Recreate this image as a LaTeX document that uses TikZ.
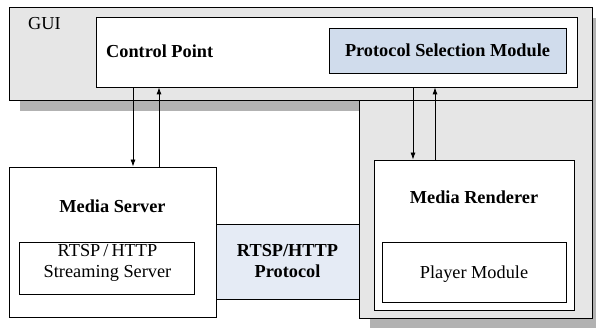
\documentclass[tikz,border=0pt]{standalone}
\usepackage{fontspec}
\setmainfont{Liberation Serif}
\usepackage{tikz}
\usetikzlibrary{arrows.meta}
\usetikzlibrary{shadows}

\definecolor{guigray}{RGB}{230,230,230}
\definecolor{shadowgray}{RGB}{178,178,178}
\definecolor{psmblue}{RGB}{208,220,236}
\definecolor{protoblue}{RGB}{229,235,245}

\begin{document}
\begin{tikzpicture}[x = 1pt, y = -1pt,
    every node/.style = {font = \fontsize{18.3}{21}\selectfont, inner sep = 0},
    box/.style = {draw, line width = 0.8pt, fill = white},
    shadowed/.style = {drop shadow = {shadow xshift = 11pt, shadow yshift = -11pt,
        fill = shadowgray, opacity = 1}},
    arr/.style = {-{Latex[length = 7pt, width = 5pt]}, line width = 0.8pt}]

    %% frame
    \fill[white] (0, 0) rectangle (596, 328);
    \clip (0, 0) rectangle (596, 328);

    %% gui and renderer side
    \node[box, shadowed, fill = guigray, minimum width = 583pt, minimum height = 93pt] (gui) at (300.5, 53.5) {};
    \node[anchor = base west] (guitext) at (28, 29.3) {GUI};
    \node[box, shadowed, fill = guigray, minimum width = 233pt, minimum height = 218pt] (rside) at (475.5, 209) {};

    %% control point
    \node[box, minimum width = 481pt, minimum height = 70pt] (cp) at (336.5, 52) {};
    \node[anchor = base west] (cptext) at (106, 57.3) {\bfseries Control Point};
    \node[box, fill = psmblue, minimum width = 237pt, minimum height = 45pt] (psm) at (447.5, 50.5)
        {\bfseries Protocol Selection Module};

    %% media server
    \node[box, minimum width = 207pt, minimum height = 150pt] (ms) at (112.5, 242) {};
    \node[anchor = base] (mstext) at (112.5, 212.7) {\bfseries Media Server};
    \node[box, minimum width = 175pt, minimum height = 52pt] (sss) at (106.5, 268) {};
    \node[align = center] (ssstext) at (107.5, 263) {RTSP\,/\,HTTP\\Streaming Server};

    %% protocol
    \node[box, fill = protoblue, minimum width = 143pt, minimum height = 75pt, align = center] (proto)
        at (287.5, 261.5) {\bfseries RTSP/HTTP\\\bfseries Protocol};

    %% media renderer
    \node[box, minimum width = 200pt, minimum height = 150pt] (mr) at (474, 235) {};
    \node[anchor = base] (mrtext) at (474, 203.3) {\bfseries Media Renderer};
    \node[box, minimum width = 184pt, minimum height = 60pt] (pm) at (474, 272) {};
    \node[anchor = base] (pmtext) at (474, 278) {Player Module};

    %% arrows
    \coordinate (msdown) at ([xshift = 20.5pt] ms.north);
    \coordinate (msup) at ([xshift = 46.5pt] ms.north);
    \coordinate (mrdown) at ([xshift = -61pt] mr.north);
    \coordinate (mrup) at ([xshift = -39pt] mr.north);
    \draw[arr] (cp.south -| msdown) -- (msdown);
    \draw[arr] (msup) -- (cp.south -| msup);
    \draw[arr] (cp.south -| mrdown) -- (mrdown);
    \draw[arr] (mrup) -- (cp.south -| mrup);
\end{tikzpicture}
\end{document}
